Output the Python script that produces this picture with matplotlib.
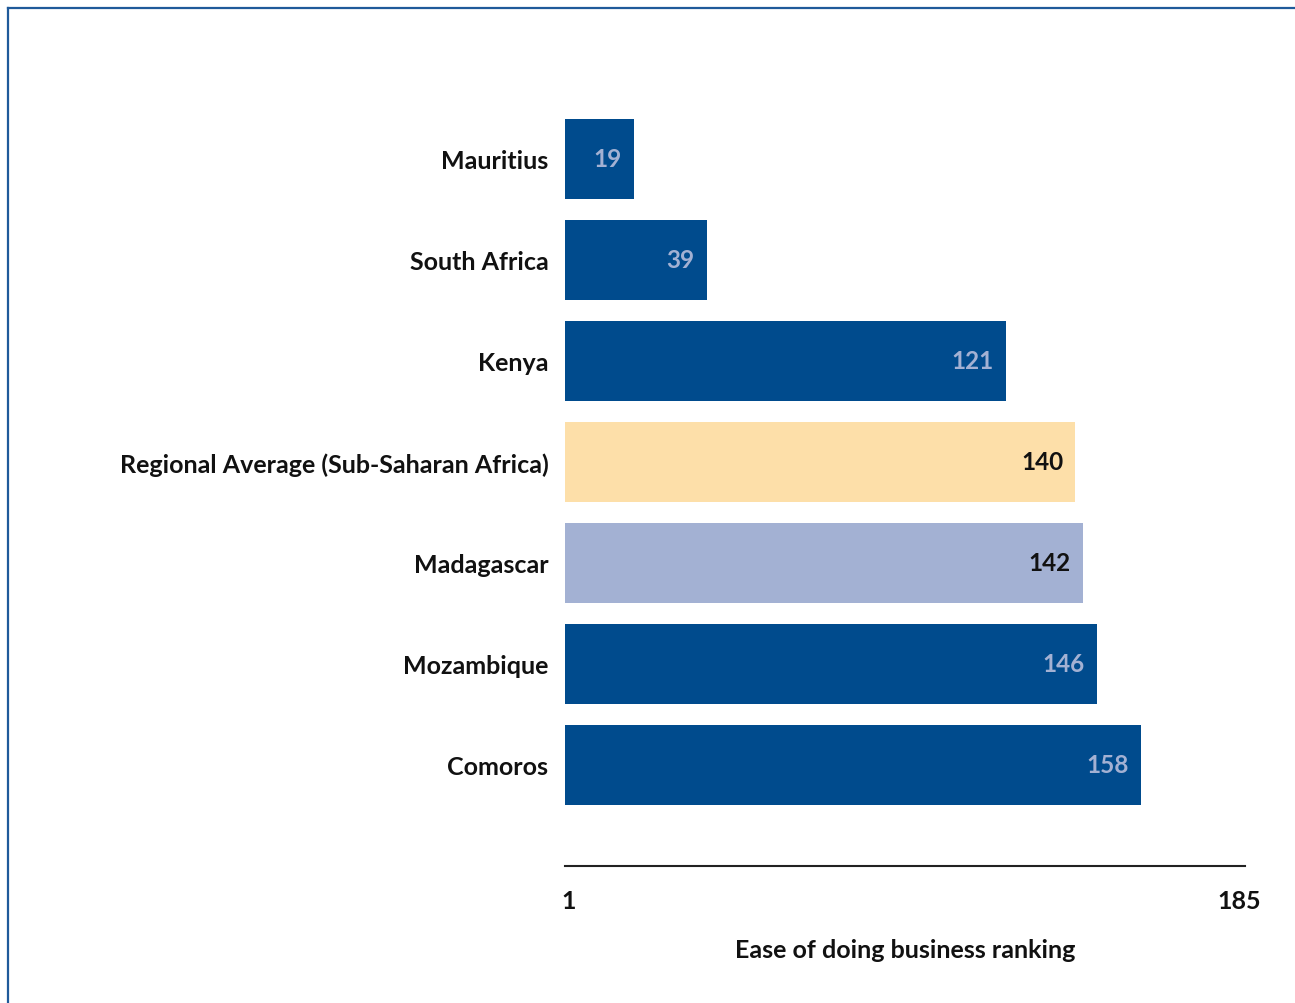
import matplotlib
matplotlib.use("Agg")
import matplotlib.pyplot as plt
from matplotlib.lines import Line2D

categories = ["Comoros", "Mozambique", "Madagascar", "Regional Average (Sub-Saharan Africa)",
              "Kenya", "South Africa", "Mauritius"]
values = [158, 146, 142, 140, 121, 39, 19]
bar_colors = ["#004b8d", "#004b8d", "#a3b1d3", "#fddfa9", "#004b8d", "#004b8d", "#004b8d"]
label_colors = ["#a3b1d3", "#a3b1d3", "#111111", "#111111", "#a3b1d3", "#a3b1d3", "#a3b1d3"]
tick_values = [1, 185]
tick_labels = ["1", "185"]
xlabel = "Ease of doing business ranking"

plt.rcParams['font.family'] = ['Lato', 'DejaVu Sans']

W, H = 1295, 1004
fig = plt.figure(figsize=(W / 100, H / 100), dpi=100)
ax = fig.add_axes([565 / W, 1 - 867 / H, (1245 - 565) / W, (867 - 99) / H])

y = list(range(len(categories)))
ax.barh(y, values, height=0.79, color=bar_colors, edgecolor='none')
for yi, v, c in zip(y, values, label_colors):
    ax.text(v - 3.4, yi, str(v), ha='right', va='center', color=c,
            fontsize=17.5, fontweight='bold')

ax.set_xlim(0, 186.5)
ax.set_ylim(-1, 6.6)
ax.set_yticks(y)
ax.set_yticklabels(categories, fontsize=18, fontweight='bold', color='#111111')
ax.tick_params(axis='y', length=0, pad=12)
ax.set_xticks(tick_values)
ax.set_xticklabels(tick_labels, fontsize=18, fontweight='bold', color='#111111')
ax.tick_params(axis='x', length=0, pad=16.5)
ax.set_xlabel(xlabel, fontsize=18, fontweight='bold', color='#111111', labelpad=19)
for s in ['top', 'right', 'left']:
    ax.spines[s].set_visible(False)
ax.spines['bottom'].set_color('#222222')
ax.spines['bottom'].set_linewidth(1.5)

# frame lines (top and left)
fig.add_artist(Line2D([8 / W, 1], [1 - 9 / H, 1 - 9 / H], transform=fig.transFigure,
                      color='#1f5a9a', linewidth=1.6))
fig.add_artist(Line2D([8 / W, 8 / W], [0, 1 - 9 / H], transform=fig.transFigure,
                      color='#1f5a9a', linewidth=1.6))

fig.savefig("out.png", dpi=100)
